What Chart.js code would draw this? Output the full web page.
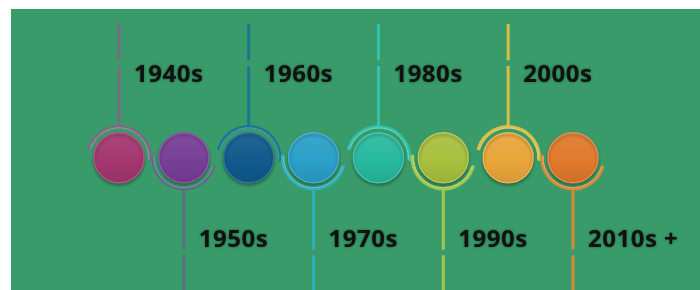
<!DOCTYPE html>
<html>
<head>
<meta charset="utf-8">
<script src="https://cdn.jsdelivr.net/npm/chart.js@4.4.1/dist/chart.umd.min.js"></script>
<style>
  html, body { margin: 0; padding: 0; background: #ffffff; }
  #wrap { position: absolute; left: 11px; top: 9px; width: 689px; height: 281px; background: #389b69; }
</style>
</head>
<body>
<div id="wrap"><canvas id="chart" width="689" height="281"></canvas></div>
<script>
// --- Data ---
const decades = ['1940s', '1950s', '1960s', '1970s', '1980s', '1990s', '2000s', '2010s +'];
const sides = ['up', 'down', 'up', 'down', 'up', 'down', 'up', 'down'];
const dotColors = ['#a3366f', '#773e96', '#0f5a8c', '#2a9fc8', '#27b99e', '#a8bf3e', '#e9a53a', '#e0792c'];
const stemColors = ['#7d6a84', '#5b6e88', '#1a7890', '#2fafc0', '#32c2ac', '#a4c84c', '#d9be46', '#d58a36'];

// --- Layout constants (in scale units) ---
const LABEL_ROW = 1;       // label rows sit at +1 / -1
const STEM_END = 1.62;     // top of upper stems
const GAP = [1.11, 1.18];  // small break in each stem
const DOT_RADIUS = 25;
const RING_RADIUS = 31;

function shade(hex, amt) {
    const n = parseInt(hex.slice(1), 16);
    const f = c => Math.max(0, Math.min(255, Math.round(c + (amt > 0 ? (255 - c) * amt : c * amt))));
    const r = f(n >> 16), g = f((n >> 8) & 255), b = f(n & 255);
    return `rgb(${r},${g},${b})`;
}

const timelinePlugin = {
    id: 'timeline',
    beforeDatasetsDraw(chart) {
        const { ctx, scales: { x, y } } = chart;
        ctx.save();
        decades.forEach((d, i) => {
            const cx = x.getPixelForValue(i);
            const cy = y.getPixelForValue(0);
            const up = sides[i] === 'up';
            const col = stemColors[i];

            // ring arc around the dot
            const a0 = up ? Math.PI + 0.3 : 0.3;
            const a1 = up ? 2 * Math.PI + 0.05 : Math.PI + 0.05;
            ctx.lineCap = 'round';
            ctx.strokeStyle = col;
            ctx.lineWidth = 3.5;
            ctx.beginPath();
            ctx.arc(cx, cy, RING_RADIUS, a0, a1);
            ctx.stroke();
            ctx.strokeStyle = shade(col, 0.3);
            ctx.lineWidth = 1;
            ctx.beginPath();
            ctx.arc(cx, cy, RING_RADIUS - 1, a0, a1);
            ctx.stroke();

            // stem with a small break
            const sgn = up ? 1 : -1;
            const start = cy - sgn * (RING_RADIUS + 1);
            const gapA = y.getPixelForValue(sgn * GAP[0]);
            const gapB = y.getPixelForValue(sgn * GAP[1]);
            const end = up ? y.getPixelForValue(STEM_END) : y.bottom;
            ctx.lineCap = 'butt';
            ctx.strokeStyle = col;
            ctx.lineWidth = 3;
            ctx.beginPath();
            ctx.moveTo(cx, start);
            ctx.lineTo(cx, gapA);
            ctx.moveTo(cx, gapB);
            ctx.lineTo(cx, end);
            ctx.stroke();
        });
        ctx.restore();
    },
    beforeDatasetDraw(chart) {
        const ctx = chart.ctx;
        ctx.save();
        ctx.shadowColor = 'rgba(0,0,0,0.3)';
        ctx.shadowBlur = 3;
        ctx.shadowOffsetY = 2;
    },
    afterDatasetDraw(chart) {
        chart.ctx.restore();
    },
    afterDatasetsDraw(chart) {
        const { ctx, scales: { x, y } } = chart;
        ctx.save();
        ctx.font = 'bold 24px "Open Sans"';
        ctx.letterSpacing = '0.5px';
        ctx.textBaseline = 'middle';
        ctx.textAlign = 'left';
        ctx.fillStyle = '#111111';
        ctx.shadowColor = 'rgba(0,0,0,0.45)';
        ctx.shadowBlur = 2.5;
        decades.forEach((d, i) => {
            const up = sides[i] === 'up';
            const tx = x.getPixelForValue(i) + 15;
            const ty = y.getPixelForValue(up ? LABEL_ROW : -LABEL_ROW);
            ctx.fillText(d, tx, ty);
        });
        ctx.restore();
    }
};

const chart = new Chart(document.getElementById('chart'), {
    type: 'scatter',
    data: {
        datasets: [{
            data: decades.map((d, i) => ({ x: i, y: 0 })),
            pointRadius: DOT_RADIUS,
            pointHoverRadius: DOT_RADIUS,
            borderWidth: 1.5,
            borderColor: ctx => shade(dotColors[ctx.dataIndex], 0.15),
            backgroundColor: ctx => {
                const c = ctx.chart;
                const base = dotColors[ctx.dataIndex];
                if (!c.scales.x || !c.scales.y) return base;
                const px = c.scales.x.getPixelForValue(ctx.dataIndex);
                const py = c.scales.y.getPixelForValue(0);
                if (!isFinite(px) || !isFinite(py)) return base;
                const g = c.ctx.createLinearGradient(px, py - DOT_RADIUS, px, py + DOT_RADIUS);
                g.addColorStop(0, shade(base, 0.08));
                g.addColorStop(0.6, base);
                g.addColorStop(1, shade(base, -0.08));
                return g;
            },
            clip: false
        }]
    },
    options: {
        responsive: false,
        animation: false,
        layout: { padding: 0, autoPadding: false },
        plugins: { legend: { display: false }, tooltip: { enabled: false } },
        scales: {
            x: { type: 'linear', display: false, min: -1.665, max: 8.958 },
            y: { type: 'linear', display: false, min: -1.6, max: 1.8 }
        }
    },
    plugins: [timelinePlugin]
});
chart.update();
</script>
</body>
</html>
